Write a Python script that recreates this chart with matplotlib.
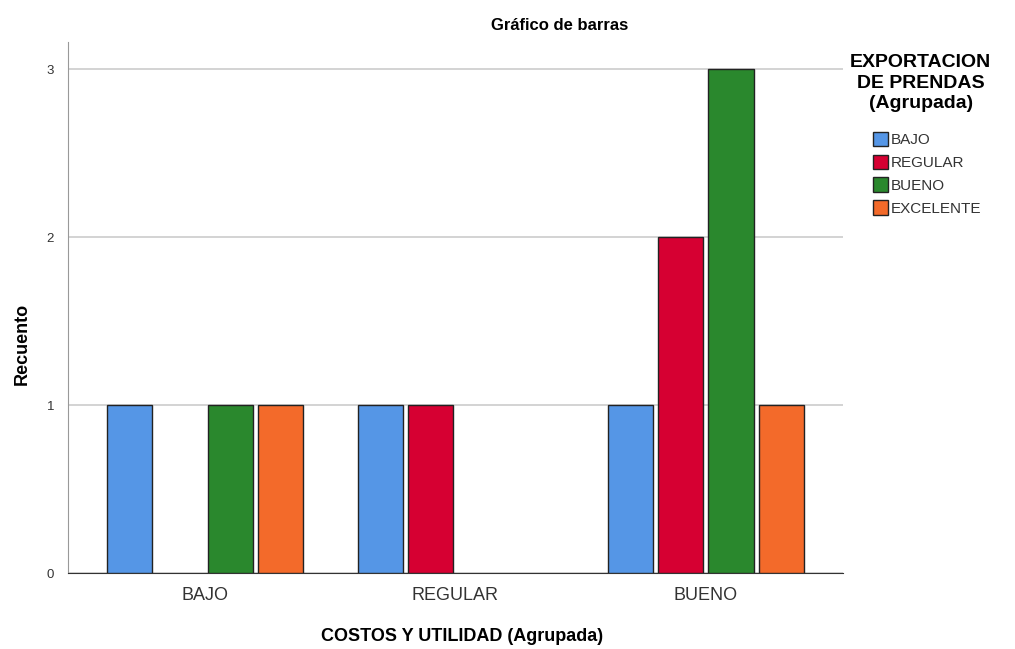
import matplotlib.pyplot as plt
import numpy as np

plt.rcParams['font.family'] = ['Liberation Sans', 'DejaVu Sans']

grupos = ['BAJO', 'REGULAR', 'BUENO']
series = ['BAJO', 'REGULAR', 'BUENO', 'EXCELENTE']
bajo = [1, 1, 1]
regular = [0, 1, 2]
bueno = [1, 0, 3]
excelente = [1, 0, 1]
valores = [bajo, regular, bueno, excelente]
colores = ['#5596E6', '#D60032', '#2A882D', '#F36A2A']

fig = plt.figure(figsize=(10.15, 6.49), dpi=100)
ax = fig.add_axes([0.067, 0.117, 0.7635, 0.818])

x = np.arange(len(grupos))
paso = 0.2
ancho = 0.18
for i, (nombre, vals) in enumerate(zip(series, valores)):
    pos = x + (i - 1.5) * paso
    v = np.array(vals, dtype=float)
    mask = v > 0
    ax.bar(pos[mask], v[mask], width=ancho, color=colores[i],
           edgecolor='#222222', linewidth=1, label=nombre, zorder=3)

ax.set_xlim(-0.547, 2.547)
ax.set_ylim(0, 3.16)
ax.set_yticks([0, 1, 2, 3])
ax.set_xticks(x)
ax.set_xticklabels(grupos, fontsize=13, color='#333333')
ax.tick_params(axis='y', labelsize=9.5, length=0, labelcolor='#333333', pad=10)
ax.tick_params(axis='x', length=0, pad=10)
ax.yaxis.grid(True, color='#cccccc', linewidth=1.2, zorder=0)
ax.spines['top'].set_visible(False)
ax.spines['right'].set_visible(False)
ax.spines['left'].set_color('#999999')
ax.spines['bottom'].set_color('#333333')

fig.text(0.551, 0.96, 'Gráfico de barras', fontsize=12, fontweight='bold',
         ha='center', va='center')
fig.text(0.455, 0.02, 'COSTOS Y UTILIDAD (Agrupada)', fontsize=13, fontweight='bold',
         ha='center', va='center')
fig.text(0.022, 0.47, 'Recuento', fontsize=13, fontweight='bold',
         ha='center', va='center', rotation=90)
fig.text(0.907, 0.872, 'EXPORTACION\nDE PRENDAS\n(Agrupada)', fontsize=14,
         fontweight='bold', ha='center', va='center', multialignment='center',
         linespacing=1.3)

leg = ax.legend(loc='upper left', bbox_to_anchor=(0.86, 0.797),
                bbox_transform=fig.transFigure, frameon=False, fontsize=11,
                handlelength=1.0, handleheight=1.1, handletextpad=0.2,
                labelspacing=0.48, borderpad=0, borderaxespad=0)
for t in leg.get_texts():
    t.set_color('#333333')

fig.savefig('out.png', dpi=100)
